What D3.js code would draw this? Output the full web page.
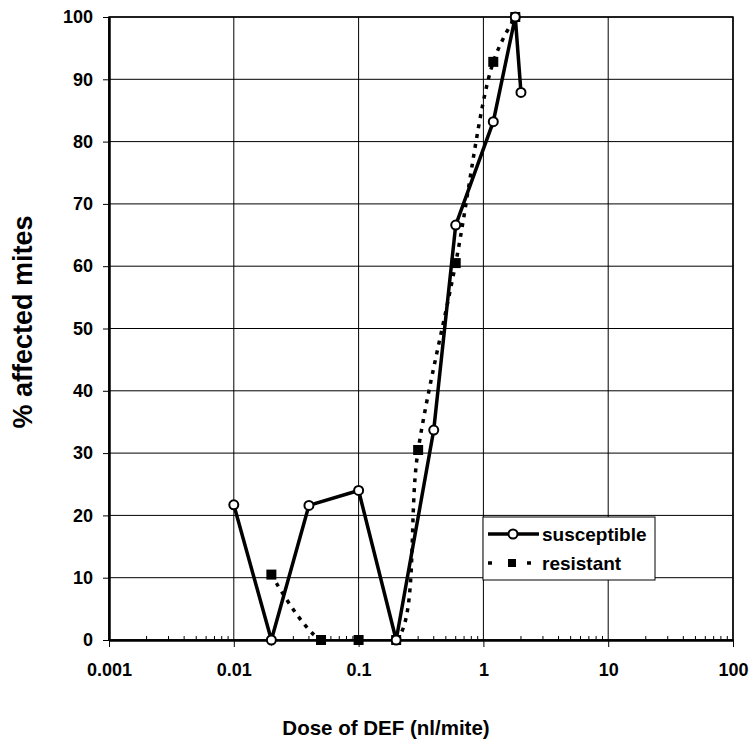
<!DOCTYPE html>
<html lang="en">
<head>
<meta charset="UTF-8">
<title>% affected mites vs dose of DEF</title>
<script src="https://d3js.org/d3.v7.min.js"></script>
<style>
  body { margin: 0; background: #fff; }
  svg { display: block; font-family: "Liberation Sans", Arial, sans-serif; font-weight: bold; }
</style>
</head>
<body>
<div id="chart"></div>
<script>
// data
const suscDose = [0.01, 0.02, 0.04, 0.1, 0.2, 0.4, 0.6, 1.2, 1.8, 2];
const suscPct  = [21.7, 0, 21.6, 24, 0, 33.7, 66.6, 83.2, 100, 87.9];
const resDose  = [0.02, 0.05, 0.1, 0.2, 0.3, 0.6, 1.2, 1.8];
const resPct   = [10.5, 0, 0, 0, 30.5, 60.5, 92.8, 100];

const xTicks = [0.001, 0.01, 0.1, 1, 10, 100];
const xTickLabels = ["0.001", "0.01", "0.1", "1", "10", "100"];
const yTicks = [0, 10, 20, 30, 40, 50, 60, 70, 80, 90, 100];
const legendLabels = ["susceptible", "resistant"];

const width = 753, height = 752;
const margin = { left: 109, right: 20, top: 17, bottom: 112 };

const svg = d3.select("#chart").append("svg")
    .attr("width", width)
    .attr("height", height);

const x = d3.scaleLog().domain([0.001, 100]).range([margin.left, width - margin.right]);
const y = d3.scaleLinear().domain([0, 100]).range([height - margin.bottom, margin.top]);

// keep the smoothed resistant curve from dipping under the axis
svg.append("clipPath").attr("id", "plotClip").append("rect")
    .attr("x", x(0.001)).attr("y", 0)
    .attr("width", x(100) - x(0.001)).attr("height", y(0) + 1);

// grid
const grid = svg.append("g").attr("stroke", "#000").attr("stroke-width", 1);
grid.selectAll("line.h").data(yTicks).enter().append("line")
    .attr("x1", x(0.001)).attr("x2", x(100))
    .attr("y1", d => y(d)).attr("y2", d => y(d));
grid.selectAll("line.v").data(xTicks).enter().append("line")
    .attr("x1", d => x(d)).attr("x2", d => x(d))
    .attr("y1", y(0)).attr("y2", y(100));

// frame
svg.append("rect")
    .attr("x", x(0.001)).attr("y", y(100))
    .attr("width", x(100) - x(0.001)).attr("height", y(0) - y(100))
    .attr("fill", "none").attr("stroke", "#000").attr("stroke-width", 1.5);

// x axis
const xAxis = d3.axisBottom(x)
    .tickValues(xTicks)
    .tickFormat((d, i) => xTickLabels[i])
    .tickSizeInner(7).tickSizeOuter(0).tickPadding(16);
const gx = svg.append("g").attr("transform", `translate(0,${y(0)})`).call(xAxis);
gx.select(".domain").attr("stroke-width", 2.5);
gx.selectAll("text").attr("font-size", 18).attr("font-family", "Liberation Sans, Arial").attr("font-weight", "bold");

// minor ticks pointing up
const minor = [];
for (let e = -3; e < 2; e++) for (let m = 2; m <= 9; m++) minor.push(m * Math.pow(10, e));
svg.append("g").selectAll("line").data(minor).enter().append("line")
    .attr("x1", d => x(d)).attr("x2", d => x(d))
    .attr("y1", y(0)).attr("y2", y(0) - 4)
    .attr("stroke", "#000").attr("stroke-width", 1);

// y axis
const yAxis = d3.axisLeft(y).tickValues(yTicks).tickSizeInner(6).tickSizeOuter(0).tickPadding(10);
const gy = svg.append("g").attr("transform", `translate(${x(0.001)},0)`).call(yAxis);
gy.select(".domain").attr("stroke-width", 2.5);
gy.selectAll("text").attr("font-size", 18).attr("font-family", "Liberation Sans, Arial").attr("font-weight", "bold");

// axis titles
svg.append("text")
    .attr("x", 386).attr("y", 735)
    .attr("text-anchor", "middle")
    .attr("font-size", 20.5)
    .text("Dose of DEF (nl/mite)");
svg.append("text")
    .attr("transform", `translate(32,322) rotate(-90)`)
    .attr("text-anchor", "middle")
    .attr("font-size", 27)
    .text("% affected mites");

// series
const susc = suscDose.map((d, i) => ({ dose: d, pct: suscPct[i] }));
const res = resDose.map((d, i) => ({ dose: d, pct: resPct[i] }));

svg.append("path").datum(res)
    .attr("clip-path", "url(#plotClip)")
    .attr("fill", "none").attr("stroke", "#000").attr("stroke-width", 3.5)
    .attr("stroke-dasharray", "4,6")
    .attr("d", d3.line().x(d => x(d.dose)).y(d => y(d.pct)).curve(d3.curveCatmullRom));

svg.append("path").datum(susc)
    .attr("fill", "none").attr("stroke", "#000").attr("stroke-width", 3.5)
    .attr("d", d3.line().x(d => x(d.dose)).y(d => y(d.pct)));

svg.append("g").selectAll("rect").data(res).enter().append("rect")
    .attr("x", d => x(d.dose) - 5).attr("y", d => y(d.pct) - 5)
    .attr("width", 10).attr("height", 10).attr("fill", "#000");

svg.append("g").selectAll("circle").data(susc).enter().append("circle")
    .attr("cx", d => x(d.dose)).attr("cy", d => y(d.pct)).attr("r", 4.5)
    .attr("fill", "#fff").attr("stroke", "#000").attr("stroke-width", 2);

// legend
const lg = svg.append("g").attr("transform", "translate(483,517)");
lg.append("rect").attr("width", 172).attr("height", 63)
    .attr("fill", "#fff").attr("stroke", "#000").attr("stroke-width", 1);
lg.append("line").attr("x1", 5).attr("x2", 56).attr("y1", 17).attr("y2", 17)
    .attr("stroke", "#000").attr("stroke-width", 3.5);
lg.append("circle").attr("cx", 30).attr("cy", 17).attr("r", 4.5)
    .attr("fill", "#fff").attr("stroke", "#000").attr("stroke-width", 2);
lg.append("line").attr("x1", 5).attr("x2", 50).attr("y1", 46).attr("y2", 46)
    .attr("stroke", "#000").attr("stroke-width", 3.5).attr("stroke-dasharray", "4,35");
lg.append("rect").attr("x", 25).attr("y", 42).attr("width", 8).attr("height", 8).attr("fill", "#000");
lg.selectAll("text").data(legendLabels).enter().append("text")
    .attr("x", 59).attr("y", (d, i) => 17 + i * 29)
    .attr("dy", "0.35em")
    .attr("font-size", 19)
    .text(d => d);
</script>
</body>
</html>
